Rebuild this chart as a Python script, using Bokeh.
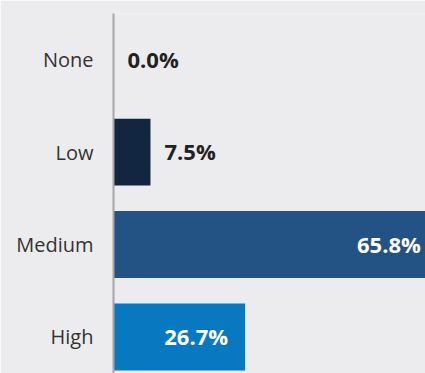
from bokeh.plotting import figure
from bokeh.models import ColumnDataSource, Range1d, FixedTicker
from bokeh.core.properties import value
from bokeh.embed import file_html
from bokeh.resources import INLINE

categories = ["None", "Low", "Medium", "High"]
values = [0.0, 7.5, 65.8, 26.7]
colors = ["#12263f", "#12263f", "#235284", "#0878c0"]
labels = ["0.0%", "7.5%", "65.8%", "26.7%"]

n = len(categories)
ypos = [n - i - 0.5 for i in range(n)]

BG = "#ececee"

p = figure(width=425, height=373, output_backend="svg", toolbar_location=None,
           x_range=Range1d(0, 63.3), y_range=Range1d(0.105, 4.0),
           background_fill_color=BG, border_fill_color=BG,
           min_border_left=113, min_border_right=0, min_border_top=13, min_border_bottom=0)
p.outline_line_color = None
p.grid.visible = False
p.xaxis.visible = False

yax = p.yaxis[0]
yax.ticker = FixedTicker(ticks=ypos)
yax.major_label_overrides = {y: c for y, c in zip(ypos, categories)}
yax.major_tick_line_color = None
yax.minor_tick_line_color = None
yax.axis_line_color = "#a5a5a8"
yax.axis_line_width = 2
yax.major_label_standoff = 14
yax.major_label_text_font = "Open Sans"
yax.major_label_text_font_size = "20px"
yax.major_label_text_color = "#333333"

src = ColumnDataSource(dict(y=ypos, v=values, c=colors, lab=labels))
p.hbar(y="y", right="v", left=0, height=0.724, fill_color="c", line_color=None, source=src)

out = ColumnDataSource(dict(
    y=[y for y, v in zip(ypos, values) if v < 10],
    v=[v for v in values if v < 10],
    lab=[l for l, v in zip(labels, values) if v < 10]))
inn = ColumnDataSource(dict(
    y=[y for y, v in zip(ypos, values) if v >= 10],
    v=[v for v in values if v >= 10],
    lab=[l for l, v in zip(labels, values) if v >= 10]))

p.text(x="v", y="y", text="lab", source=out, x_offset=14, y_offset=-1,
       text_align="left", text_baseline="middle", text_color="#222222",
       text_font=value("Open Sans"), text_font_style="bold", text_font_size="22px")
p.text(x="v", y="y", text="lab", source=inn, x_offset=-17, y_offset=-1,
       text_align="right", text_baseline="middle", text_color="white",
       text_font=value("Open Sans"), text_font_style="bold", text_font_size="22px")

open("out.html", "w").write(file_html(p, INLINE))
